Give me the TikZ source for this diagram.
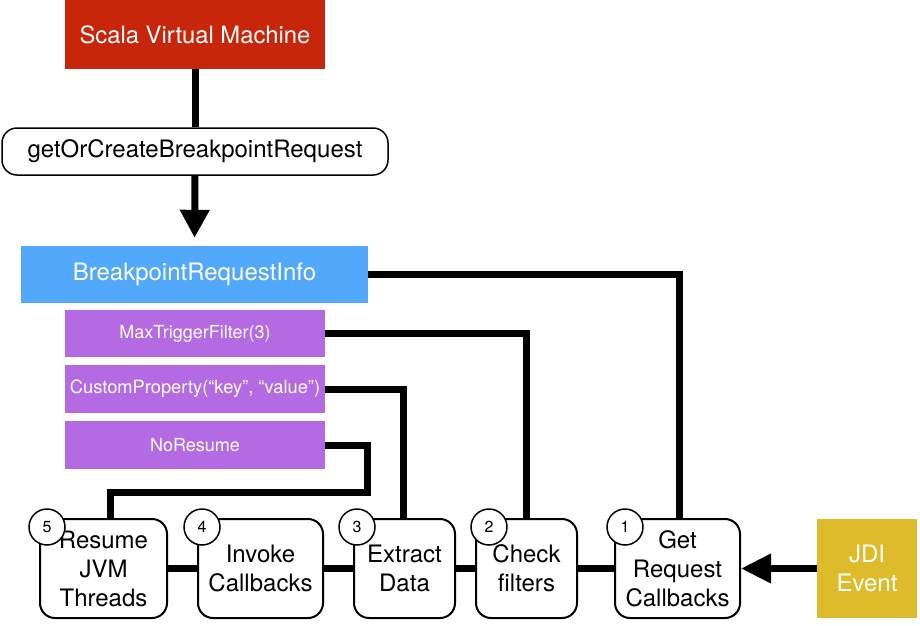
\documentclass[tikz,border=0pt]{standalone}
\usepackage{fontspec}
\setmainfont{TeX Gyre Heros}
\usetikzlibrary{arrows.meta}
\definecolor{svmred}{HTML}{C8260A}
\definecolor{briblue}{HTML}{52A8FA}
\definecolor{purp}{HTML}{B36AE2}
\definecolor{jdiyel}{HTML}{DDBB2A}
\tikzset{
  flat/.style={inner sep=0pt, text=white, align=center},
  stepbox/.style={draw=black, line width=2pt, rounded corners=15pt, fill=white,
    minimum width=#1, minimum height=99pt, inner sep=0pt, align=center,
    font=\fontsize{24}{29}\selectfont},
  num/.style={circle, draw=black, line width=1.5pt, fill=white, minimum size=36pt,
    inner sep=0pt, font=\fontsize{16}{18}\selectfont},
  conn/.style={line width=7pt},
}
\begin{document}
\begin{tikzpicture}[x=1pt,y=-1pt]
\useasboundingbox (0,0) rectangle (920,625);
% top boxes
\node[flat, fill=svmred, minimum width=260pt, minimum height=69pt,
  font=\fontsize{23.8}{28}\selectfont] (svm) at (195,34.5) {Scala Virtual Machine};
\node[draw=black, line width=1.5pt, rounded corners=15pt, minimum width=386pt,
  minimum height=47pt, inner sep=0pt, font=\fontsize{24}{28}\selectfont]
  (goc) at (195,151.5) {getOrCreateBreakpointRequest};
\node[flat, fill=briblue, minimum width=347pt, minimum height=57pt,
  font=\fontsize{24}{28}\selectfont] (bri) at (194.5,274.5) {BreakpointRequestInfo};
\node[flat, fill=purp, minimum width=260pt, minimum height=47pt,
  font=\fontsize{18}{21}\selectfont] (mtf) at (195,333.5) {MaxTriggerFilter(3)};
\node[flat, fill=purp, minimum width=260pt, minimum height=48pt,
  font=\fontsize{18.3}{21}\selectfont] (cp) at (195,389) {CustomProperty(“key”, “value”)};
\node[flat, fill=purp, minimum width=260pt, minimum height=48pt,
  font=\fontsize{18}{21}\selectfont] (nr) at (195,445) {NoResume};
% bottom steps
\node[stepbox=127pt] (res) at (103.5,568.5) {Resume\\JVM\\Threads};
\node[stepbox=125pt] (inv) at (260.5,568.5) {Invoke\\Callbacks};
\node[stepbox=101pt] (ext) at (404.5,568.5) {Extract\\Data};
\node[stepbox=101pt] (chk) at (526.5,568.5) {Check\\filters};
\node[stepbox=125pt] (get) at (677.5,568.5) {Get\\Request\\Callbacks};
\node[flat, fill=jdiyel, minimum width=100pt, minimum height=99pt,
  font=\fontsize{24}{29}\selectfont] (jdi) at (867,568.5) {JDI\\Event};
% connectors
\draw[conn] (svm.south) -- (goc.north);
\draw[conn, -{Triangle[length=28pt,width=28pt]}, shorten >=8pt] (goc.south) -- (bri.north);
\draw[conn] (bri.east) -| ([xshift=1.5pt]get.north);
\draw[conn] (mtf.east) -| (chk.north);
\draw[conn] (cp.east) -| ([xshift=-1.5pt]ext.north);
\coordinate (nrc) at (367,492);
\draw[conn] (nr.east) -| (nrc) -| ([xshift=6.5pt]res.north);
\draw[conn] (res.east) -- (inv.west);
\draw[conn] (inv.east) -- (ext.west);
\draw[conn] (ext.east) -- (chk.west);
\draw[conn] (chk.east) -- (get.west);
\draw[conn, -{Triangle[length=30pt,width=28pt]}] (jdi.west) -- (get.east);
% numbers
\node[num] (n5) at (47,527) {5};
\node[num] (n4) at (202,527) {4};
\node[num] (n3) at (357,527) {3};
\node[num] (n2) at (489,527) {2};
\node[num] (n1) at (625,527) {1};
\end{tikzpicture}
\end{document}
